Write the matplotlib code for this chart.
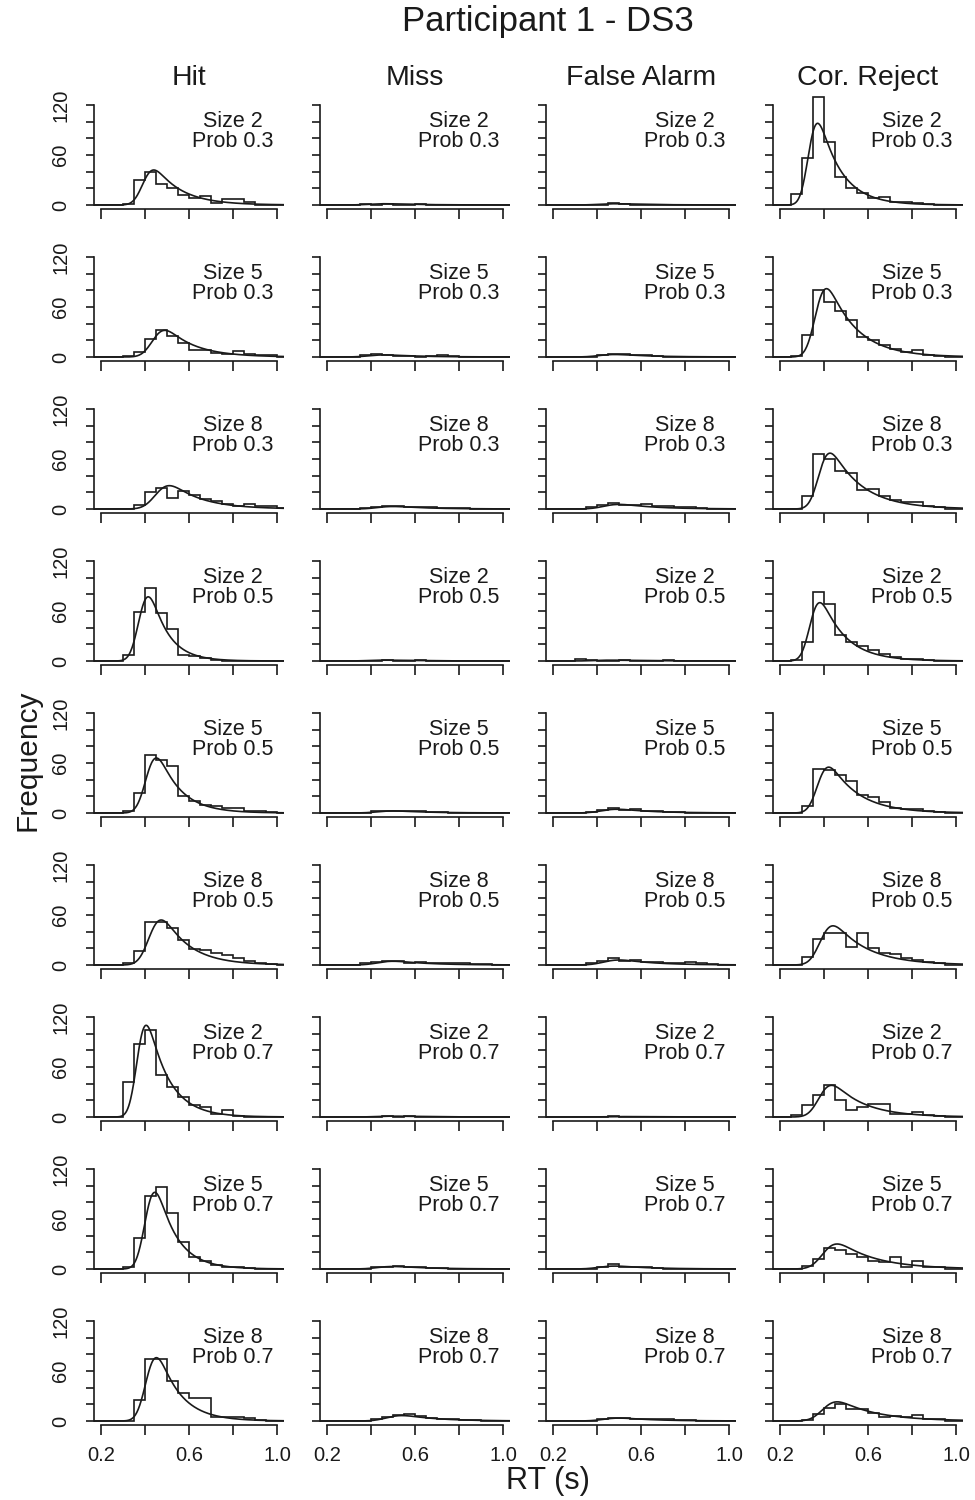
import math
import numpy as np
import matplotlib
matplotlib.use('Agg')
import matplotlib.pyplot as plt

plt.rcParams['font.family'] = ['Liberation Sans', 'DejaVu Sans']

# histogram bins (s), width 0.05
EDGES = [0.15, 0.20, 0.25, 0.30, 0.35, 0.40, 0.45, 0.50, 0.55, 0.60,
         0.65, 0.70, 0.75, 0.80, 0.85, 0.90, 0.95, 1.00, 1.05]

SIZES = [2, 5, 8, 2, 5, 8, 2, 5, 8]
PROBS = [0.3, 0.3, 0.3, 0.5, 0.5, 0.5, 0.7, 0.7, 0.7]
COLUMNS = ['Hit', 'Miss', 'False Alarm', 'Cor. Reject']

# counts per bin, one row per condition
HIT = [
    [0, 0, 0, 1, 30, 40, 25, 20, 12, 8, 11, 2, 7, 7, 4, 0, 0, 0],
    [0, 0, 0, 1, 6, 22, 32, 25, 17, 9, 8, 5, 4, 7, 4, 3, 2, 0],
    [0, 0, 0, 0, 5, 20, 25, 13, 22, 17, 12, 9, 6, 4, 6, 3, 3, 1],
    [0, 0, 0, 7, 59, 88, 58, 38, 7, 6, 4, 1, 0, 0, 0, 0, 0, 0],
    [0, 0, 0, 2, 24, 70, 64, 56, 20, 14, 10, 8, 6, 6, 3, 2, 1, 0],
    [0, 0, 0, 2, 17, 52, 52, 44, 30, 19, 18, 14, 12, 8, 5, 3, 1, 0],
    [0, 0, 0, 42, 88, 104, 50, 36, 24, 14, 12, 4, 8, 1, 0, 0, 0, 0],
    [0, 0, 0, 3, 37, 88, 98, 67, 33, 14, 10, 5, 3, 2, 1, 0, 0, 0],
    [0, 0, 0, 0, 25, 75, 74, 48, 34, 28, 28, 5, 5, 5, 4, 1, 0, 0],
]
MISS = [
    [0, 0, 0, 0, 1, 0, 1, 0, 0, 1, 0, 0, 0, 0, 0, 0, 0, 0],
    [0, 0, 0, 0, 2, 4, 3, 1, 1, 0, 1, 3, 1, 0, 0, 0, 0, 0],
    [0, 0, 0, 0, 1, 2, 3, 3, 2, 2, 2, 1, 1, 1, 0, 0, 0, 0],
    [0, 0, 0, 0, 0, 0, 1, 0, 0, 1, 0, 0, 0, 0, 0, 0, 0, 0],
    [0, 0, 0, 0, 0, 2, 2, 3, 3, 2, 1, 1, 0, 0, 0, 0, 0, 0],
    [0, 0, 0, 0, 2, 4, 5, 5, 3, 4, 3, 3, 2, 2, 1, 1, 0, 0],
    [0, 0, 0, 0, 0, 0, 1, 0, 1, 0, 0, 0, 0, 0, 0, 0, 0, 0],
    [0, 0, 0, 0, 0, 2, 3, 4, 2, 2, 1, 1, 0, 0, 0, 0, 0, 0],
    [0, 0, 0, 0, 0, 3, 5, 7, 8, 6, 4, 3, 2, 1, 1, 0, 0, 0],
]
FALSE_ALARM = [
    [0, 0, 0, 0, 0, 0, 2, 1, 0, 0, 0, 0, 0, 0, 0, 0, 0, 0],
    [0, 0, 0, 0, 0, 3, 4, 4, 3, 2, 1, 0, 0, 0, 0, 0, 0, 0],
    [0, 0, 0, 0, 2, 5, 7, 5, 5, 6, 4, 3, 2, 2, 1, 0, 0, 0],
    [0, 0, 0, 2, 1, 0, 0, 1, 0, 0, 0, 1, 0, 0, 0, 0, 0, 0],
    [0, 0, 0, 0, 1, 4, 6, 4, 5, 2, 2, 1, 1, 0, 0, 0, 0, 0],
    [0, 0, 0, 0, 3, 5, 8, 5, 6, 4, 4, 3, 2, 4, 2, 1, 0, 0],
    [0, 0, 0, 0, 0, 0, 1, 0, 0, 0, 0, 0, 0, 0, 0, 0, 0, 0],
    [0, 0, 0, 0, 0, 2, 6, 2, 2, 2, 1, 0, 0, 0, 0, 0, 0, 0],
    [0, 0, 0, 0, 0, 3, 4, 4, 3, 3, 2, 2, 1, 1, 0, 0, 0, 0],
]
COR_REJECT = [
    [0, 0, 13, 56, 130, 76, 34, 20, 14, 9, 10, 4, 4, 2, 1, 0, 0, 0],
    [0, 0, 1, 26, 80, 66, 55, 44, 24, 20, 14, 10, 6, 8, 2, 1, 0, 0],
    [0, 0, 0, 15, 66, 60, 45, 43, 23, 24, 15, 11, 8, 8, 3, 2, 0, 0],
    [0, 0, 1, 23, 83, 69, 31, 23, 18, 13, 8, 5, 3, 2, 1, 0, 0, 0],
    [0, 0, 0, 9, 53, 52, 46, 38, 22, 19, 13, 6, 5, 5, 2, 1, 0, 0],
    [0, 0, 0, 10, 31, 38, 38, 22, 38, 21, 14, 13, 9, 6, 4, 2, 0, 0],
    [0, 0, 2, 14, 26, 38, 20, 8, 12, 16, 16, 4, 4, 6, 2, 1, 0, 0],
    [0, 0, 0, 4, 12, 25, 23, 18, 14, 10, 9, 14, 2, 10, 2, 2, 0, 0],
    [0, 0, 0, 1, 8, 16, 21, 15, 14, 10, 5, 6, 5, 7, 3, 2, 0, 0],
]

# fitted ex-Gaussian curves: (mu, sigma, tau, peak height)
HIT_FIT = [(0.395, 0.035, 0.12, 42), (0.44, 0.04, 0.13, 32), (0.455, 0.045, 0.14, 28),
           (0.378, 0.033, 0.08, 77), (0.41, 0.035, 0.10, 66), (0.425, 0.04, 0.12, 54),
           (0.368, 0.03, 0.095, 110), (0.406, 0.033, 0.09, 92), (0.41, 0.035, 0.10, 76)]
MISS_FIT = [(0.40, 0.05, 0.15, 1.5), (0.40, 0.05, 0.15, 2.5), (0.44, 0.05, 0.15, 3),
            (0.40, 0.05, 0.15, 1), (0.44, 0.05, 0.15, 2.5), (0.44, 0.05, 0.15, 4.5),
            (0.44, 0.05, 0.15, 1), (0.44, 0.05, 0.15, 3), (0.48, 0.05, 0.15, 6.5)]
FA_FIT = [(0.42, 0.05, 0.15, 1.5), (0.42, 0.05, 0.15, 3), (0.44, 0.05, 0.15, 5.5),
          (0.40, 0.05, 0.15, 1), (0.43, 0.05, 0.15, 4.5), (0.44, 0.05, 0.15, 6),
          (0.44, 0.05, 0.15, 0.5), (0.42, 0.05, 0.15, 3.5), (0.44, 0.05, 0.15, 3.5)]
CR_FIT = [(0.333, 0.03, 0.10, 98), (0.365, 0.035, 0.13, 82), (0.38, 0.035, 0.14, 67),
          (0.34, 0.032, 0.11, 70), (0.375, 0.035, 0.13, 55), (0.388, 0.04, 0.15, 47),
          (0.383, 0.04, 0.14, 38), (0.40, 0.045, 0.17, 30), (0.40, 0.045, 0.17, 23)]

COUNTS = [HIT, MISS, FALSE_ALARM, COR_REJECT]
FITS = [HIT_FIT, MISS_FIT, FA_FIT, CR_FIT]

erf = np.vectorize(math.erf)


def exgauss(x, mu, sigma, tau):
    z = (x - mu) / sigma - sigma / tau
    cdf = 0.5 * (1 + erf(z / math.sqrt(2)))
    return np.exp(mu / tau + sigma ** 2 / (2 * tau ** 2) - x / tau) * cdf / tau


W, H = 975, 1500
fig = plt.figure(figsize=(W / 100, H / 100), dpi=100)
ink = '#1a1a1a'

XLO, XHI = 0.168, 1.032
YLO, YHI = -5, 135
PX_X = 220.0        # pixels per second
PX_Y = 100 / 120.0  # pixels per count
col_x02 = [101, 327, 553, 780]   # pixel position of 0.2 in each column
row_y0 = [205 + 152 * r for r in range(9)]  # pixel position of zero count

xs = np.linspace(XLO, XHI, 400)

for c in range(4):
    for r in range(9):
        left = col_x02[c] - (0.2 - XLO) * PX_X
        width = (XHI - XLO) * PX_X
        bottom = row_y0[r] - YLO * PX_Y
        height = (YHI - YLO) * PX_Y
        ax = fig.add_axes([left / W, 1 - bottom / H, width / W, height / H])
        ax.set_xlim(XLO, XHI)
        ax.set_ylim(YLO, YHI)
        ax.patch.set_alpha(0)

        ax.stairs(COUNTS[c][r], EDGES, baseline=None, color=ink, lw=1.2)
        mu, sg, tau, pk = FITS[c][r]
        dens = exgauss(xs, mu, sg, tau)
        ax.plot(xs, dens / dens.max() * pk, color=ink, lw=1.2)

        for s in ['top', 'right']:
            ax.spines[s].set_visible(False)
        for s in ['left', 'bottom']:
            ax.spines[s].set_linewidth(1.2)
            ax.spines[s].set_color(ink)
        ax.spines['left'].set_bounds(0, 120)
        ax.spines['bottom'].set_bounds(0.2, 1.0)

        ax.set_yticks(range(0, 121, 20))
        if c == 0:
            ax.set_yticklabels(['0', '', '', '60', '', '', '120'],
                               rotation=90, va='center', fontsize=14.5)
        else:
            ax.set_yticklabels([])
        ax.tick_params(axis='y', length=6, width=1.2, pad=11, colors=ink)
        ax.set_xticks([0.2, 0.4, 0.6, 0.8, 1.0])
        if r == 8:
            ax.set_xticklabels(['0.2', '', '0.6', '', '1.0'], fontsize=14.5)
        else:
            ax.set_xticklabels([])
        ax.tick_params(axis='x', length=7, width=1.2, pad=8, colors=ink)

        ax.text(0.8, 93.5, 'Size %d' % SIZES[r], ha='center', va='baseline',
                fontsize=15.5, color=ink)
        ax.text(0.8, 69.5, 'Prob %.1f' % PROBS[r], ha='center', va='baseline',
                fontsize=15.5, color=ink)

for c, name in enumerate(COLUMNS):
    fig.text((col_x02[c] + 88) / W, 1 - 78 / H, name, ha='center', va='center',
             fontsize=20.5, color=ink)

fig.text(548 / W, 1 - 22 / H, 'Participant 1 - DS3', ha='center', va='center',
         fontsize=25, color=ink)
fig.text(28 / W, 1 - 760 / H, 'Frequency', ha='center', va='center',
         rotation=90, fontsize=21.5, color=ink)
fig.text(548 / W, 1 - 1481 / H, 'RT (s)', ha='center', va='center',
         fontsize=22, color=ink)

fig.savefig('out.png', dpi=100)
